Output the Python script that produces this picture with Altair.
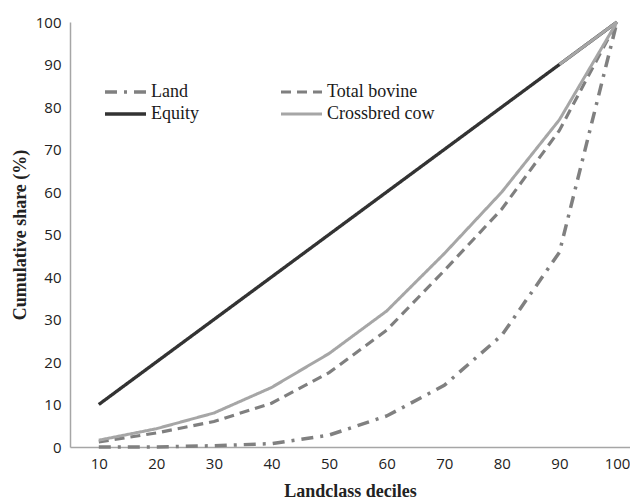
import altair as alt
import pandas as pd

deciles = [10, 20, 30, 40, 50, 60, 70, 80, 90, 100]
land = [0.0, 0.0, 0.3, 0.8, 2.8, 7.3, 14.5, 26.3, 45.8, 100.0]
total_bovine = [1.2, 3.3, 6.0, 10.3, 17.5, 27.5, 41.5, 56.0, 74.5, 100.0]
equity = [10, 20, 30, 40, 50, 60, 70, 80, 90, 100]
crossbred_cow = [1.6, 4.3, 8.0, 14.0, 22.0, 32.0, 45.5, 60.0, 77.0, 100.0]

series_names = ["Land", "Equity", "Total bovine", "Crossbred cow"]
series_values = [land, equity, total_bovine, crossbred_cow]
colors = ["#808080", "#333333", "#7f7f7f", "#a6a6a6"]
dashes = [[12, 7, 3, 7], [1, 0], [10, 6], [1, 0]]
widths = [3.5, 3, 4, 3]

rows = []
for name, vals in zip(series_names, series_values):
    for d, v in zip(deciles, vals):
        rows.append({"decile": d, "share": v, "series": name})
df = pd.DataFrame(rows)

x = alt.X("decile:Q", scale=alt.Scale(domain=[5, 102.26], nice=False, zero=False),
          axis=alt.Axis(values=deciles, title="Landclass deciles", grid=False, ticks=False,
                        labelPadding=9, titlePadding=11))
y = alt.Y("share:Q", scale=alt.Scale(domain=[0, 100], nice=False),
          axis=alt.Axis(values=list(range(0, 101, 10)), title="Cumulative share (%)",
                        grid=False, ticks=False, labelPadding=9, titlePadding=6))

base = alt.Chart(df).mark_line(strokeCap="butt").encode(
    x=x,
    y=y,
    color=alt.Color("series:N", scale=alt.Scale(domain=series_names, range=colors),
                    legend=alt.Legend(title=None, orient="none", legendX=33, legendY=59,
                                      columns=2, columnPadding=80, rowPadding=0,
                                      clipHeight=22,
                                      symbolType="stroke", symbolSize=1681,
                                      symbolStrokeWidth=3.5, labelOffset=3,
                                      labelFont="Liberation Serif", labelFontSize=18,
                                      labelColor="#1a1a1a")),
    strokeDash=alt.StrokeDash("series:N", scale=alt.Scale(domain=series_names, range=dashes)),
    strokeWidth=alt.StrokeWidth("series:N", scale=alt.Scale(domain=series_names, range=widths),
                                legend=None),
)

tail = alt.Chart(df).mark_line(color="#a6a6a6", strokeWidth=3).encode(
    x="decile:Q", y="share:Q"
).transform_filter(
    (alt.datum.series == "Equity") & (alt.datum.decile >= 90)
)

chart = alt.layer(base, tail).properties(
    width=560, height=425,
    autosize=alt.AutoSizeParams(type="none"),
    padding={"left": 62, "top": 14, "right": 0, "bottom": 55},
).configure_view(stroke=None).configure_axis(
    domainColor="#a6a6a6", domainWidth=1.5,
    labelFont="Open Sans", labelFontSize=15, labelColor="#222222",
    titleFont="Liberation Serif", titleFontSize=18, titleFontWeight="bold", titleColor="#222222",
)

chart.save("out.html", embed_options={"renderer": "svg", "actions": False})
